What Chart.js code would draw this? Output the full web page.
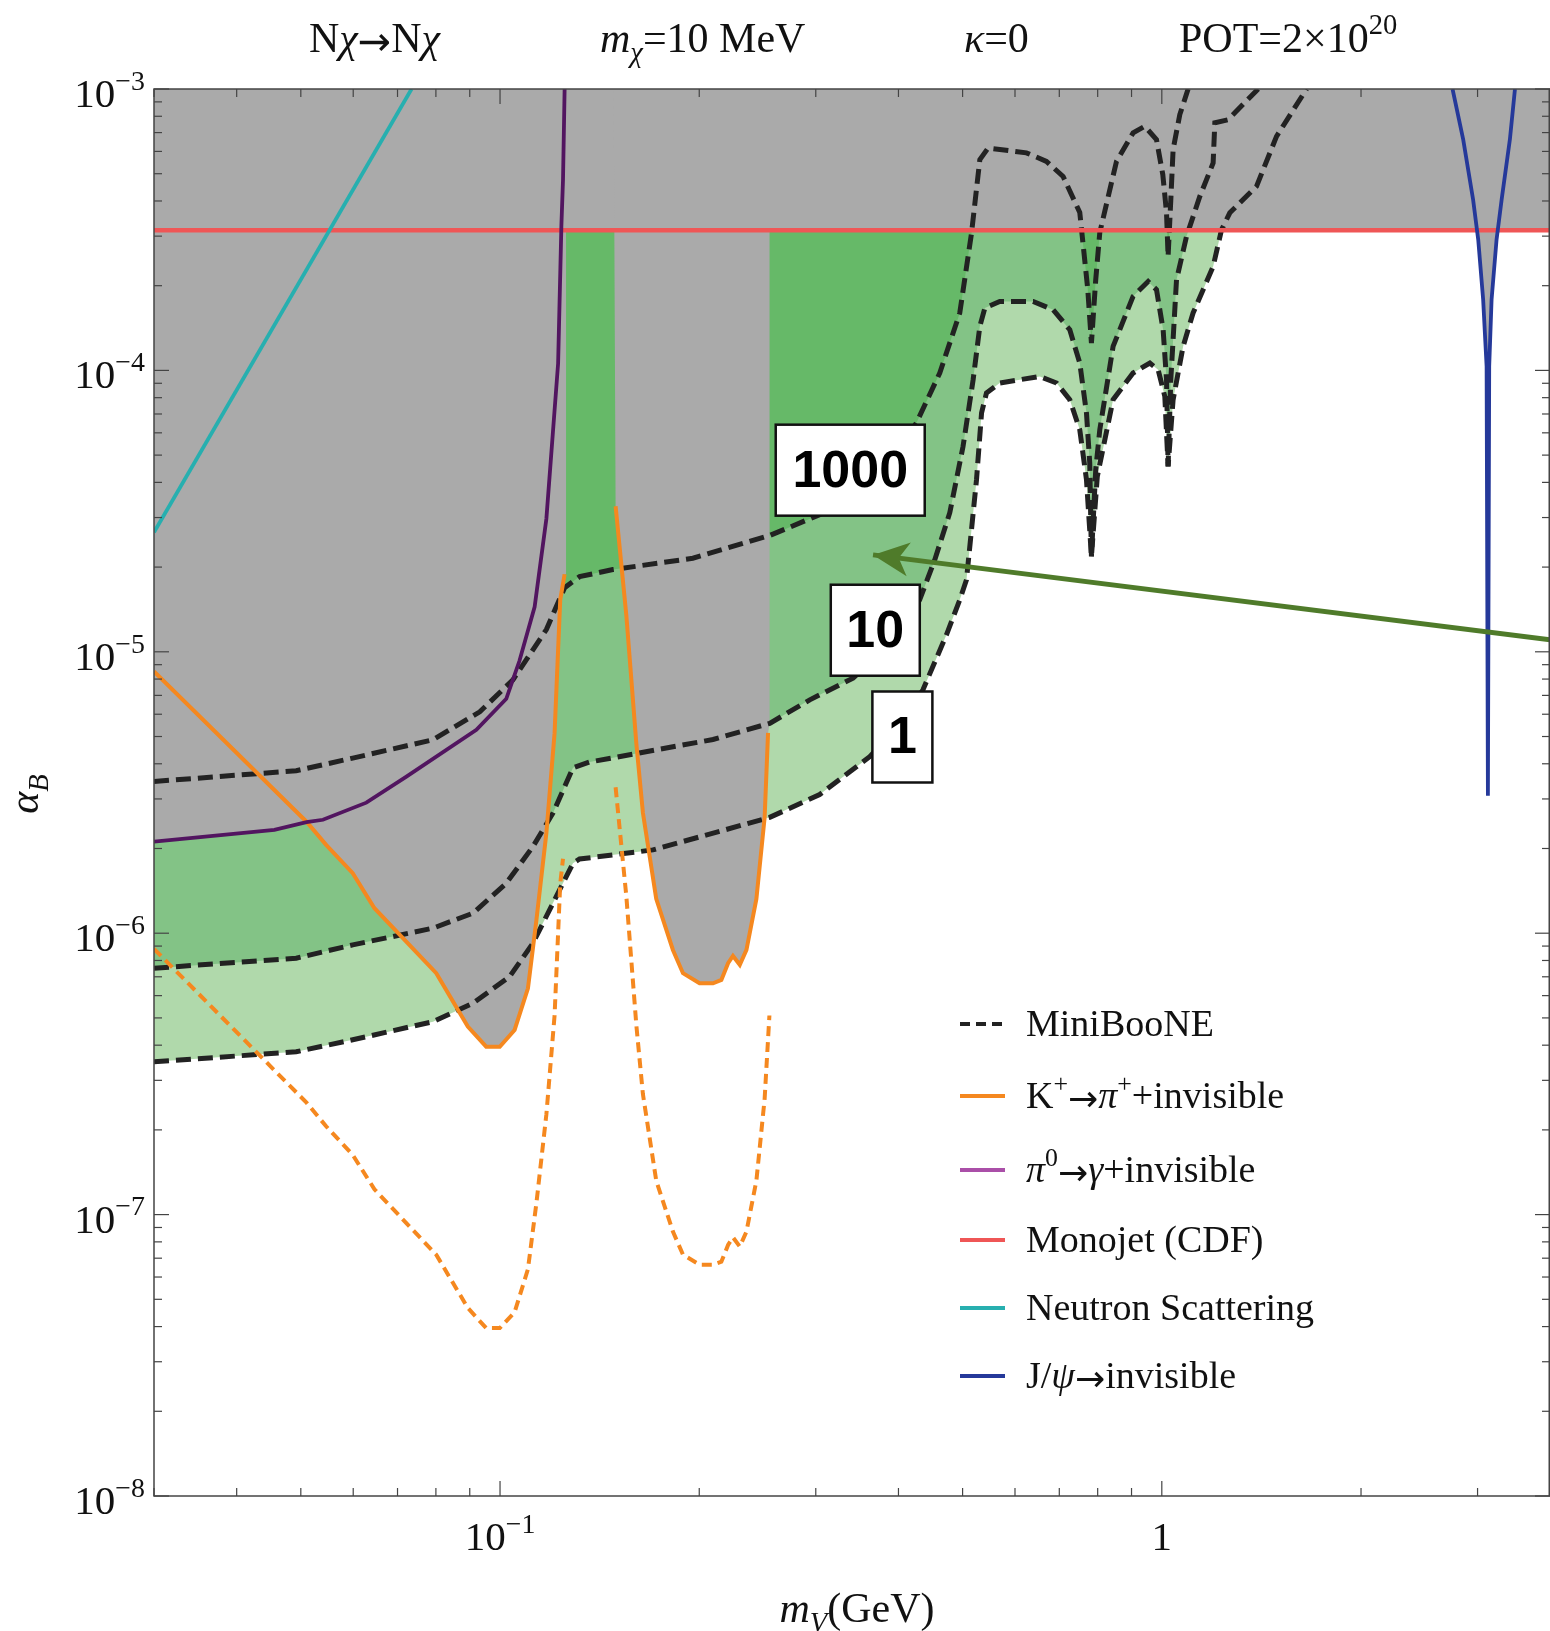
<!DOCTYPE html>
<html>
<head>
<meta charset="utf-8">
<script src="https://cdn.jsdelivr.net/npm/chart.js@4.4.1/dist/chart.umd.min.js"></script>
<style>
  html, body { margin: 0; padding: 0; background: #fff; }
  canvas { display: block; }
</style>
</head>
<body>
<canvas id="chart" width="1550" height="1631"></canvas>
<script>
// axis ranges (m_V in GeV, alpha_B)
const X_MIN = 0.03, X_MAX = 3.86;
const Y_MIN = 1e-8, Y_MAX = 1e-3;

const xTicks = [0.1, 1];
const xTickLabels = [['10', '−1'], ['1', '']];
const yTicks = [1e-8, 1e-7, 1e-6, 1e-5, 1e-4, 1e-3];
const yTickLabels = ['−8', '−7', '−6', '−5', '−4', '−3'];

// MiniBooNE event-number contours, [m_V, alpha_B]
const contourLevels = ['1000', '10', '1'];
const miniboone1000 = [
  [0.03, 3.46e-6], [0.0492, 3.78e-6], [0.0599, 4.19e-6], [0.0792, 4.87e-6], [0.0932, 6.12e-6],
  [0.1046, 7.95e-6], [0.1175, 1.20e-5], [0.1252, 1.69e-5], [0.1319, 1.85e-5], [0.1481, 1.96e-5],
  [0.1956, 2.15e-5], [0.2556, 2.59e-5], [0.3041, 3.07e-5], [0.3619, 3.71e-5], [0.4257, 6.50e-5],
  [0.4618, 9.79e-5], [0.4951, 1.60e-4], [0.5158, 3.08e-4], [0.5309, 5.61e-4], [0.5464, 6.17e-4],
  [0.6244, 5.93e-4], [0.6694, 5.53e-4], [0.7093, 4.89e-4], [0.7517, 3.64e-4], [0.7729, 1.94e-4],
  [0.7828, 1.25e-4], [0.7946, 2.10e-4], [0.8059, 3.09e-4], [0.8541, 5.53e-4], [0.9049, 6.98e-4],
  [0.9425, 7.37e-4], [0.9817, 6.61e-4], [1.0035, 4.96e-4], [1.0165, 3.64e-4], [1.0221, 2.54e-4],
  [1.0318, 4.04e-4], [1.0401, 6.09e-4], [1.0646, 8.11e-4], [1.0958, 1.0e-3]
];
const miniboone10 = [
  [0.03, 7.51e-7], [0.0492, 8.15e-7], [0.0599, 9.09e-7], [0.0792, 1.042e-6], [0.091, 1.178e-6],
  [0.1022, 1.505e-6], [0.1121, 2.03e-6], [0.1202, 2.67e-6], [0.1289, 3.87e-6], [0.1366, 4.06e-6],
  [0.1481, 4.20e-6], [0.2098, 4.88e-6], [0.2556, 5.57e-6], [0.2938, 6.75e-6], [0.3415, 8.06e-6],
  [0.388, 1.059e-5], [0.4306, 1.53e-5], [0.4538, 2.12e-5], [0.4782, 3.12e-5], [0.5008, 5.37e-5],
  [0.5187, 9.27e-5], [0.5309, 1.434e-4], [0.5403, 1.666e-4], [0.569, 1.759e-4], [0.639, 1.759e-4],
  [0.685, 1.643e-4], [0.726, 1.395e-4], [0.7517, 1.062e-4], [0.7694, 7.06e-5], [0.7782, 4.69e-5],
  [0.7828, 2.18e-5], [0.7946, 4.44e-5], [0.8059, 6.15e-5], [0.8441, 1.217e-4], [0.9049, 1.833e-4],
  [0.9535, 2.07e-4], [0.9817, 1.936e-4], [1.0046, 1.395e-4], [1.0165, 9.27e-5], [1.0221, 4.56e-5],
  [1.0318, 9.27e-5], [1.0525, 2.10e-4], [1.0898, 2.995e-4], [1.1413, 4.15e-4], [1.1955, 5.46e-4],
  [1.2026, 7.58e-4], [1.2595, 7.78e-4], [1.3983, 1.0e-3]
];
const miniboone1 = [
  [0.03, 3.49e-7], [0.0492, 3.79e-7], [0.0599, 4.18e-7], [0.0792, 4.85e-7], [0.091, 5.64e-7],
  [0.1034, 7.01e-7], [0.1121, 9.21e-7], [0.1216, 1.349e-6], [0.1289, 1.773e-6], [0.1319, 1.836e-6],
  [0.1414, 1.872e-6], [0.1702, 1.977e-6], [0.2556, 2.58e-6], [0.3041, 3.11e-6], [0.3619, 4.24e-6],
  [0.4018, 5.50e-6], [0.4356, 7.33e-6], [0.4727, 1.149e-5], [0.4951, 1.53e-5], [0.5068, 1.803e-5],
  [0.5248, 4.09e-5], [0.5341, 7.06e-5], [0.5433, 8.31e-5], [0.569, 9.02e-5], [0.654, 9.52e-5],
  [0.6933, 9.02e-5], [0.726, 7.87e-5], [0.7517, 6.15e-5], [0.7694, 4.09e-5], [0.7828, 2.18e-5],
  [0.799, 4.2e-5], [0.8441, 7.87e-5], [0.9049, 9.79e-5], [0.9592, 1.062e-4], [0.9872, 1.006e-4],
  [1.0105, 8.08e-5], [1.0221, 4.56e-5], [1.0401, 7.87e-5], [1.0769, 1.217e-4], [1.115, 1.60e-4],
  [1.1955, 2.34e-4], [1.2309, 3.16e-4], [1.267, 3.63e-4], [1.3903, 4.51e-4], [1.4906, 6.79e-4],
  [1.6548, 1.0e-3]
];

// K+ -> pi+ + invisible (solid: current bound, dashed: projection), split at the pi0 window
const kaonSolidLow = [
  [0.03, 8.51e-6], [0.051, 2.49e-6], [0.0546, 2.06e-6], [0.0599, 1.634e-6], [0.0646, 1.227e-6],
  [0.0801, 7.21e-7], [0.0894, 4.66e-7], [0.0953, 3.95e-7], [0.0999, 3.95e-7], [0.1052, 4.53e-7],
  [0.1102, 6.37e-7], [0.1135, 1.115e-6], [0.1175, 2.27e-6], [0.1209, 5.14e-6], [0.1233, 1.53e-5],
  [0.1252, 1.886e-5]
];
const kaonSolidHigh = [
  [0.1495, 3.29e-5], [0.1552, 1.345e-5], [0.1607, 4.71e-6], [0.1644, 2.68e-6], [0.1722, 1.324e-6],
  [0.1825, 8.72e-7], [0.189, 7.21e-7], [0.2002, 6.64e-7], [0.2098, 6.64e-7], [0.216, 6.82e-7],
  [0.2211, 7.82e-7], [0.2249, 8.30e-7], [0.2303, 7.72e-7], [0.2357, 8.72e-7], [0.244, 1.324e-6],
  [0.2511, 2.58e-6], [0.2541, 5.15e-6]
];
const kaonDashedLow = [
  [0.03, 8.8e-7], [0.051, 2.5e-7], [0.0546, 2.06e-7], [0.0599, 1.63e-7], [0.0646, 1.23e-7],
  [0.0801, 7.2e-8], [0.0894, 4.66e-8], [0.0953, 3.95e-8], [0.0999, 3.95e-8], [0.1052, 4.5e-8],
  [0.1102, 6.4e-8], [0.1135, 1.1e-7], [0.1175, 2.27e-7], [0.1209, 5.1e-7], [0.1233, 1.5e-6],
  [0.1245, 1.84e-6]
];
const kaonDashedHigh = [
  [0.1495, 3.3e-6], [0.1552, 1.35e-6], [0.1607, 4.7e-7], [0.1644, 2.68e-7], [0.1722, 1.32e-7],
  [0.1825, 8.7e-8], [0.189, 7.2e-8], [0.2002, 6.64e-8], [0.2098, 6.64e-8], [0.216, 6.8e-8],
  [0.2211, 7.8e-8], [0.2249, 8.3e-8], [0.2303, 7.7e-8], [0.2357, 8.7e-8], [0.244, 1.32e-7],
  [0.2511, 2.58e-7], [0.2553, 5.1e-7]
];
// edges of the excluded K+ region: pi0 window and end of the kaon bound
const kaonWindow = [0.1259, 0.1485];
const kaonEnd = [0.2556, 5.6e-6];

const pion0 = [
  [0.03, 2.116e-6], [0.0456, 2.33e-6], [0.051, 2.48e-6], [0.054, 2.53e-6], [0.0628, 2.91e-6],
  [0.0722, 3.60e-6], [0.0921, 5.28e-6], [0.1022, 6.81e-6], [0.107, 9.29e-6], [0.1128, 1.445e-5],
  [0.1175, 2.97e-5], [0.1224, 1.06e-4], [0.1238, 3.27e-4], [0.1245, 4.76e-4], [0.1252, 1.0e-3]
];
const neutron = [[0.03, 2.66e-5], [0.0735, 1.0e-3]];
const monojet = [[X_MIN, 3.15e-4], [X_MAX, 3.15e-4]];
const jpsi = [
  [2.750, 1.0e-3], [2.854, 6.61e-4], [2.954, 4.04e-4], [3.007, 2.915e-4], [3.059, 1.784e-4],
  [3.096, 1.033e-4], [3.110, 3.08e-6], [3.124, 1.033e-4], [3.150, 1.784e-4], [3.205, 2.915e-4],
  [3.262, 4.04e-4], [3.357, 6.61e-4], [3.417, 1.0e-3]
];
const arrow = [[3.86, 1.103e-5], [0.3661, 2.21e-5]];
// where the contour labels sit [m_V, alpha_B]
const contourLabelAt = [[0.3382, 4.42e-5], [0.369, 1.193e-5], [0.4055, 4.98e-6]];

const GRAY = '#aaaaaa';
const GREEN_DARK = '#66b968', GREEN_MID = '#83c386', GREEN_LIGHT = '#b0d9ab';
const ORANGE = '#f5881f', PURPLE = '#521560', RED = '#ef5656', CYAN = '#27afaf';
const BLUE = '#25399a', DASH = '#222222', ARROW = '#4f7b2a';
const SERIF = '"Liberation Serif", "Times New Roman", serif';
const SANS = '"Liberation Sans", Arial, sans-serif';

const toXY = arr => arr.map(([x, y]) => ({ x, y }));

// lower edge of the grey (excluded) area left of the pi0 window: pi0 bound, then the K+ bound
const crossX = 0.051;
const greyLeft = [
  ...pion0.filter(p => p[0] <= crossX),
  ...kaonSolidLow.filter(p => p[0] > crossX),
  [kaonWindow[0], kaonSolidLow[kaonSolidLow.length - 1][1]],
  [kaonWindow[0], Y_MAX]
];
const greyMid = [[kaonWindow[1], Y_MAX], ...kaonSolidHigh, kaonEnd, [kaonEnd[0], Y_MAX]];

// rich text: segments of [text, mode]; mode may hold i (italic), ^ (sup), _ (sub), a (arrow glyph)
function segFont(mode, size) {
  if (mode.includes('a')) return (size * 0.95) + 'px "DejaVu Sans", sans-serif';
  const small = mode.includes('^') || mode.includes('_');
  return (mode.includes('i') ? 'italic ' : '') + (small ? size * 0.68 : size) + 'px ' + SERIF;
}
function segDy(mode, size) {
  if (mode.includes('^')) return -size * 0.42;
  if (mode.includes('_')) return size * 0.24;
  if (mode.includes('a')) return size * 0.08;
  return 0;
}
function richWidth(ctx, segs, size) {
  let w = 0;
  for (const [t, m] of segs) { ctx.font = segFont(m, size); w += ctx.measureText(t).width; }
  return w;
}
function drawRich(ctx, segs, x, y, size, align) {
  const w = richWidth(ctx, segs, size);
  let cx = align === 'right' ? x - w : align === 'center' ? x - w / 2 : x;
  ctx.textAlign = 'left';
  ctx.textBaseline = 'alphabetic';
  for (const [t, m] of segs) {
    ctx.font = segFont(m, size);
    ctx.fillText(t, cx, y + segDy(m, size));
    cx += ctx.measureText(t).width;
  }
}

const legendItems = [
  { color: DASH, dash: [10, 6], segs: [['MiniBooNE', '']] },
  { color: ORANGE, segs: [['K', ''], ['+', '^'], ['→', 'a'], ['π', 'i'], ['+', '^'], ['+invisible', '']] },
  { color: '#aa4fa8', segs: [['π', 'i'], ['0', '^'], ['→', 'a'], ['γ', 'i'], ['+invisible', '']] },
  { color: RED, segs: [['Monojet (CDF)', '']] },
  { color: CYAN, segs: [['Neutron Scattering', '']] },
  { color: BLUE, segs: [['J/', ''], ['ψ', 'i'], ['→', 'a'], ['invisible', '']] },
];

const decorations = {
  id: 'decorations',
  afterDatasetsDraw(chart) {
    const { ctx, chartArea: a, scales: { x, y } } = chart;
    ctx.save();

    // arrow head
    const pts = chart.getDatasetMeta(0).data;
    const tail = pts[0], tip = pts[1];
    const ang = Math.atan2(tip.y - tail.y, tip.x - tail.x);
    const L = 36, W = 17;
    ctx.fillStyle = ARROW;
    ctx.beginPath();
    ctx.moveTo(tip.x, tip.y);
    ctx.lineTo(tip.x - L * Math.cos(ang) + W * Math.sin(ang), tip.y - L * Math.sin(ang) - W * Math.cos(ang));
    ctx.lineTo(tip.x - L * 0.72 * Math.cos(ang), tip.y - L * 0.72 * Math.sin(ang));
    ctx.lineTo(tip.x - L * Math.cos(ang) - W * Math.sin(ang), tip.y - L * Math.sin(ang) + W * Math.cos(ang));
    ctx.closePath();
    ctx.fill();

    // contour level boxes
    const boxW = [149, 89, 60];
    contourLevels.forEach((lab, i) => {
      const cx = x.getPixelForValue(contourLabelAt[i][0]);
      const cy = y.getPixelForValue(contourLabelAt[i][1]);
      const w = boxW[i], h = 91;
      ctx.fillStyle = '#fff';
      ctx.fillRect(cx - w / 2, cy - h / 2, w, h);
      ctx.strokeStyle = '#111';
      ctx.lineWidth = 2.5;
      ctx.strokeRect(cx - w / 2, cy - h / 2, w, h);
      ctx.fillStyle = '#000';
      ctx.font = 'bold 52px ' + SANS;
      ctx.textAlign = 'center';
      ctx.textBaseline = 'middle';
      ctx.fillText(lab, cx, cy + 2);
    });

    // legend
    const rows = [1024, 1096, 1170, 1240, 1308, 1376];
    legendItems.forEach((it, i) => {
      ctx.strokeStyle = it.color;
      ctx.lineWidth = 4;
      ctx.setLineDash(it.dash || []);
      ctx.beginPath();
      ctx.moveTo(960, rows[i]);
      ctx.lineTo(1005, rows[i]);
      ctx.stroke();
      ctx.setLineDash([]);
      ctx.fillStyle = '#111';
      drawRich(ctx, it.segs, 1026, rows[i] + 12, 38, 'left');
    });

    // frame
    ctx.strokeStyle = '#444';
    ctx.lineWidth = 1.5;
    ctx.strokeRect(a.left, a.top, a.right - a.left - 0.75, a.bottom - a.top);

    // ticks on all four sides, pointing inwards
    ctx.lineWidth = 1.2;
    const tick = (x1, y1, x2, y2) => { ctx.beginPath(); ctx.moveTo(x1, y1); ctx.lineTo(x2, y2); ctx.stroke(); };
    for (let e = -2; e <= 0; e++) {
      for (let k = 1; k <= 9; k++) {
        const v = k * Math.pow(10, e);
        if (v < X_MIN * 0.999 || v > X_MAX) continue;
        const px = x.getPixelForValue(v), len = k === 1 ? 15 : 8;
        tick(px, a.bottom, px, a.bottom - len);
        tick(px, a.top, px, a.top + len);
      }
    }
    for (let e = -8; e <= -3; e++) {
      for (let k = 1; k <= 9; k++) {
        const v = k * Math.pow(10, e);
        if (v > Y_MAX * 1.001) continue;
        const py = y.getPixelForValue(v), len = k === 1 ? 15 : 8;
        tick(a.left, py, a.left + len, py);
        tick(a.right, py, a.right - len, py);
      }
    }

    // tick labels
    ctx.fillStyle = '#111';
    yTicks.forEach((v, i) => {
      drawRich(ctx, [['10', ''], [yTickLabels[i], '^']], 145, y.getPixelForValue(v) + 18, 41, 'right');
    });
    xTicks.forEach((v, i) => {
      const [base, exp] = xTickLabels[i];
      const segs = exp ? [[base, ''], [exp, '^']] : [[base, '']];
      drawRich(ctx, segs, x.getPixelForValue(v), 1550, 41, 'center');
    });

    // axis titles
    drawRich(ctx, [['m', 'i'], ['V', 'i_'], ['(GeV)', '']], 857, 1622, 42, 'center');
    ctx.save();
    ctx.translate(38, 794);
    ctx.rotate(-Math.PI / 2);
    drawRich(ctx, [['α', 'i'], ['B', 'i_']], 0, 0, 42, 'center');
    ctx.restore();

    // heading
    drawRich(ctx, [['N', ''], ['χ', 'i'], ['→', 'a'], ['N', ''], ['χ', 'i']], 309, 52, 42, 'left');
    drawRich(ctx, [['m', 'i'], ['χ', 'i_'], ['=10 MeV', '']], 600, 52, 42, 'left');
    drawRich(ctx, [['κ', 'i'], ['=0', '']], 964, 52, 42, 'left');
    drawRich(ctx, [['POT=2×10', ''], ['20', '^']], 1179, 52, 42, 'left');

    ctx.restore();
  }
};

const line = (data, color, width, extra) => Object.assign({
  data: toXY(data), borderColor: color, borderWidth: width, fill: false, pointRadius: 0, tension: 0
}, extra || {});

const CONTOUR_DASH = [15, 7];

new Chart(document.getElementById('chart'), {
  type: 'line',
  data: {
    datasets: [
      // index 0: the arrow (read by the plugin)
      line(arrow, ARROW, 5, { order: 0 }),
      line(jpsi, BLUE, 3.8, { fill: 'end', backgroundColor: GRAY, order: 14 }),
      line(neutron, CYAN, 3.8, { order: 1 }),
      line(pion0, PURPLE, 3.8, { order: 1 }),
      line(kaonSolidLow, ORANGE, 4, { order: 2 }),
      line(kaonSolidHigh, ORANGE, 4, { order: 2 }),
      line(kaonDashedLow, ORANGE, 4, { borderDash: [10, 6], order: 2 }),
      line(kaonDashedHigh, ORANGE, 4, { borderDash: [10, 6], order: 2 }),
      // grey excluded areas
      line(monojet, RED, 4.5, { fill: 'end', backgroundColor: GRAY, order: 17 }),
      line(greyLeft, 'rgba(0,0,0,0)', 0, { fill: 'end', backgroundColor: GRAY, order: 16 }),
      line(greyMid, 'rgba(0,0,0,0)', 0, { fill: 'end', backgroundColor: GRAY, order: 15 }),
      // MiniBooNE contours, each filling upward
      line(miniboone1000, DASH, 5, { borderDash: CONTOUR_DASH, fill: 'end', backgroundColor: GREEN_DARK, order: 18 }),
      line(miniboone10, DASH, 5, { borderDash: CONTOUR_DASH, fill: 'end', backgroundColor: GREEN_MID, order: 19 }),
      line(miniboone1, DASH, 5, { borderDash: CONTOUR_DASH, fill: 'end', backgroundColor: GREEN_LIGHT, order: 20 }),
    ]
  },
  options: {
    responsive: false,
    animation: false,
    devicePixelRatio: 1,
    layout: { padding: { left: 154, right: 0, top: 89, bottom: 135 } },
    scales: {
      x: { type: 'logarithmic', min: X_MIN, max: X_MAX, display: false },
      y: { type: 'logarithmic', min: Y_MIN, max: Y_MAX, display: false }
    },
    plugins: {
      legend: { display: false },
      tooltip: { enabled: false },
      filler: { drawTime: 'beforeDatasetsDraw' }
    }
  },
  plugins: [decorations]
});
</script>
</body>
</html>
